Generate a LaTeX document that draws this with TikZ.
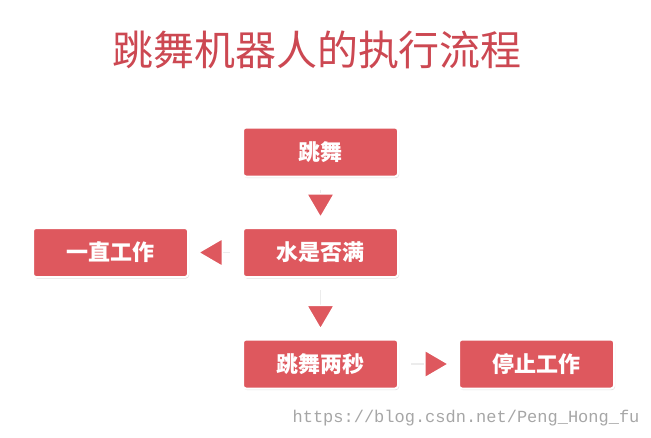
\documentclass[tikz,border=0pt]{standalone}
\usepackage{fontspec}
\newfontfamily\cjk{Noto Sans CJK SC}
\setmonofont{Liberation Mono}
\usetikzlibrary{arrows.meta,shadows}
\definecolor{boxred}{RGB}{222,88,94}
\definecolor{titlered}{RGB}{204,72,82}
\tikzset{
  stepbox/.style={draw=white,line width=2pt,fill=boxred,rounded corners=3pt,
    minimum width=155pt,minimum height=49pt,text=white,
    font={\cjk\bfseries\fontsize{22pt}{26pt}\selectfont},
    drop shadow={shadow xshift=1pt,shadow yshift=-1.5pt,opacity=0.25}},
  flow/.style={draw=gray!15,line width=1.5pt,shorten <=12pt,shorten >=8pt,
    -{Triangle[length=26pt,width=30pt,fill=boxred,color=white,line width=1.5pt]}}
}
\begin{document}
\begin{tikzpicture}[x=1pt,y=-1pt]
\useasboundingbox (0,0) rectangle (651,437);
\node[text=titlered,font={\cjk\fontsize{41pt}{46pt}\selectfont}] (title) at (317,50) {跳舞机器人的执行流程};
\node[stepbox] (dance) at (320.5,152) {跳舞};
\node[stepbox] (full) at (320.5,252.5) {水是否满};
\node[stepbox] (work) at (110.5,252.5) {一直工作};
\node[stepbox] (dance2) at (320.5,364) {跳舞两秒};
\node[stepbox] (stop) at (536.5,364) {停止工作};
\draw[flow] (dance) -- (full);
\draw[flow] (full) -- (work);
\draw[flow] (full) -- (dance2);
\draw[flow] (dance2) -- (stop);
\node[text=gray!70,font={\ttfamily\fontsize{17pt}{19pt}\selectfont},anchor=east] (mark) at (643,418) {https://blog.csdn.net/Peng\_Hong\_fu};
\end{tikzpicture}
\end{document}
